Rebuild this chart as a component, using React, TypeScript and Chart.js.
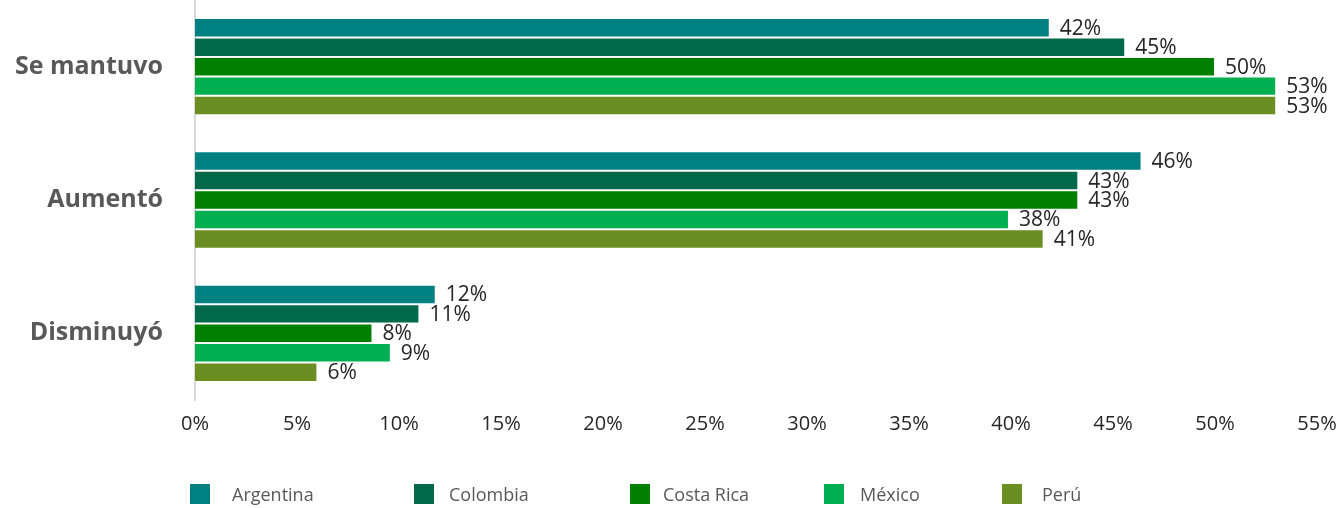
import React, { useEffect, useRef } from "react";
import { Chart, registerables } from "chart.js";

Chart.register(...registerables);

const categories = ["Se mantuvo", "Aumentó", "Disminuyó"];
const countries = ["Argentina", "Colombia", "Costa Rica", "México", "Perú"];
const colors = ["#008080", "#00694A", "#008000", "#00B050", "#6B8E23"];

const argentina = [41.9, 46.4, 11.8];
const colombia = [45.6, 43.3, 11.0];
const costaRica = [50.0, 43.3, 8.7];
const mexico = [53.0, 39.9, 9.6];
const peru = [53.0, 41.6, 6.0];

const argentinaLabels = ["42%", "46%", "12%"];
const colombiaLabels = ["45%", "43%", "11%"];
const costaRicaLabels = ["50%", "43%", "8%"];
const mexicoLabels = ["53%", "38%", "9%"];
const peruLabels = ["53%", "41%", "6%"];

const seriesValues = [argentina, colombia, costaRica, mexico, peru];
const seriesLabels = [argentinaLabels, colombiaLabels, costaRicaLabels, mexicoLabels, peruLabels];

const xMin = 0;
const xMax = 55;
const xStep = 5;

const legendBoxX = [190, 414, 630, 824, 1002];
const legendTextX = [232, 449, 663, 860, 1042];

const barLabelPlugin = {
  id: "barLabels",
  afterDatasetsDraw(chart: any) {
    const ctx = chart.ctx;
    ctx.save();
    ctx.font = '21px "Open Sans"';
    ctx.fillStyle = "#262626";
    ctx.textAlign = "left";
    ctx.textBaseline = "middle";
    chart.data.datasets.forEach((_ds: any, i: number) => {
      const meta = chart.getDatasetMeta(i);
      meta.data.forEach((el: any, j: number) => {
        ctx.fillText(seriesLabels[i][j], el.x + 10, el.y + 1);
      });
    });
    ctx.restore();
  },
};

export default function App() {
  const canvasRef = useRef<HTMLCanvasElement | null>(null);

  useEffect(() => {
    if (!canvasRef.current) return;
    const chart = new Chart(canvasRef.current, {
      type: "bar",
      data: {
        labels: categories,
        datasets: countries.map((name, i) => ({
          label: name,
          data: seriesValues[i],
          backgroundColor: colors[i],
          borderColor: "rgba(255,255,255,0.3)",
          borderWidth: 1,
          categoryPercentage: 0.73,
          barPercentage: 1.0,
        })),
      },
      options: {
        indexAxis: "y",
        animation: false,
        responsive: false,
        maintainAspectRatio: false,
        layout: { padding: { top: -3, left: 12, right: 20, bottom: 60 } },
        plugins: {
          legend: { display: false },
          tooltip: { enabled: false },
        },
        scales: {
          x: {
            min: xMin,
            max: xMax,
            grid: { display: false, drawTicks: false },
            border: { display: false },
            afterFit: (scale: any) => {
              scale.paddingLeft = 0;
              scale.paddingRight = 0;
            },
            ticks: {
              stepSize: xStep,
              padding: 12,
              color: "#262626",
              font: { family: "Open Sans", size: 20 },
              maxRotation: 0,
              autoSkip: false,
              callback: (v: any) => `${v}%`,
            },
          },
          y: {
            grid: { display: false, drawTicks: false },
            border: { display: true, color: "#d9d9d9", width: 2 },
            afterFit: (scale: any) => {
              scale.width = 183;
              scale.paddingTop = 0;
              scale.paddingBottom = 0;
            },
            ticks: {
              padding: 32,
              color: "#595959",
              font: { family: "Open Sans", size: 25, weight: "bold" },
            },
          },
        },
      },
      plugins: [barLabelPlugin],
    });
    return () => chart.destroy();
  }, []);

  return (
    <div
      style={{
        position: "fixed",
        left: 0,
        top: 0,
        width: 1337,
        height: 508,
        background: "#ffffff",
        overflow: "hidden",
      }}
    >
      <canvas ref={canvasRef} width={1337} height={508} style={{ display: "block" }} />
      {countries.map((name, i) => (
        <React.Fragment key={name}>
          <div
            style={{
              position: "absolute",
              left: legendBoxX[i],
              top: 484,
              width: 20,
              height: 20,
              background: colors[i],
            }}
          />
          <div
            style={{
              position: "absolute",
              left: legendTextX[i],
              top: 494,
              transform: "translateY(-50%)",
              fontFamily: '"Open Sans"',
              fontSize: 18,
              color: "#595959",
              whiteSpace: "nowrap",
              lineHeight: "24px",
            }}
          >
            {name}
          </div>
        </React.Fragment>
      ))}
    </div>
  );
}
